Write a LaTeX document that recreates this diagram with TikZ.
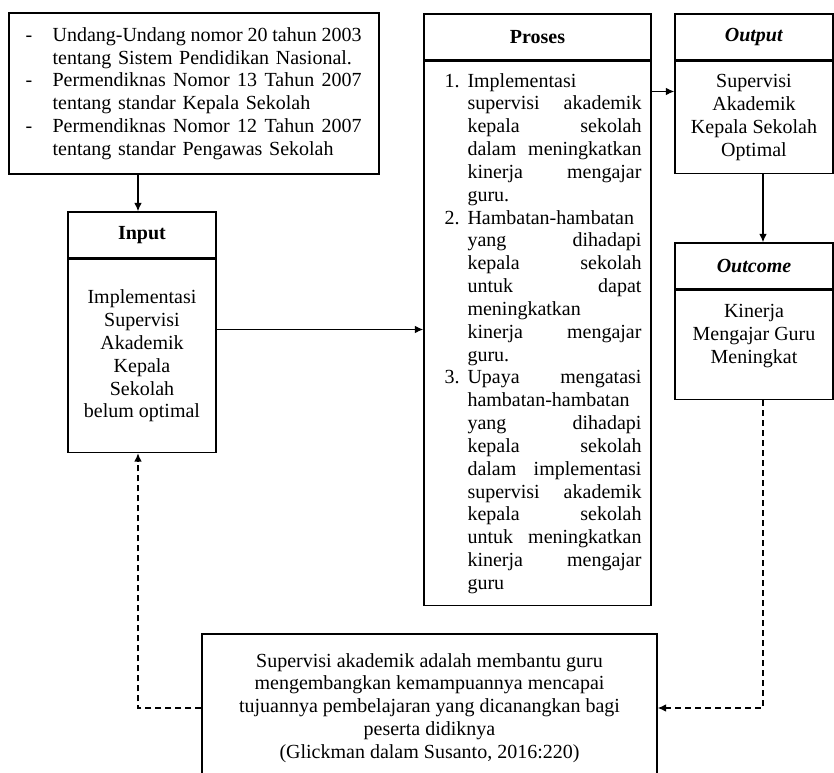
\documentclass[tikz,border=0pt]{standalone}
\usepackage{fontspec}
\setmainfont{Liberation Serif}
\usetikzlibrary{positioning, arrows.meta, calc}
\newlength{\jlw}
\newlength{\numw}
\newcommand{\jl}[1]{\noindent\hbox to\jlw{\spaceskip=3pt plus 1fill minus 1pt\relax #1}\par}
\newcommand{\rl}[1]{\noindent\hbox to\jlw{#1\hfil}\par}
\newcommand{\numb}[1]{\noindent\llap{\makebox[\numw][l]{#1}}}
\newcommand{\listsetup}[3]{\setlength{\leftskip}{#1}\setlength{\rightskip}{0pt}%
  \setlength{\numw}{#2}\setlength{\jlw}{#3}\setlength{\parskip}{0pt}\hbadness=10000\relax}
\tikzset{
  txt/.style={font=\fontsize{12}{13.7}\selectfont},
  headbox/.style={draw, line width=0.9pt, minimum height=27.6pt, inner sep=2pt, txt},
  bodybox/.style={draw, line width=0.9pt, align=center, txt},
  listbox/.style={draw, line width=0.9pt, txt},
  arr/.style={-{Latex[length=5pt,width=4.5pt]}, line width=0.7pt},
  dasharr/.style={arr, dash pattern=on 3.6pt off 2.4pt}
}
\begin{document}
\begin{tikzpicture}[x=0.6pt, y=-0.6pt]
  \useasboundingbox (0,0) rectangle (834,773);

  %% legal basis
  \node[listbox, text width=202.1pt, inner xsep=9.95pt,
        minimum width=222pt, minimum height=96.6pt] (laws) at (194,93.5)
    {\listsetup{16.2pt}{16.2pt}{185.4pt}%
     \numb{-}\jl{Undang-Undang nomor 20 tahun 2003}
     \rl{tentang Sistem Pendidikan Nasional.}
     \numb{-}\jl{Permendiknas Nomor 13 Tahun 2007}
     \rl{tentang standar Kepala Sekolah}
     \numb{-}\jl{Permendiknas Nomor 12 Tahun 2007}
     \rl{tentang standar Pengawas Sekolah}};

  %% input
  \node[headbox, minimum width=88.8pt] (inhead) at (142,235)
    {\textbf{Input}};
  \node[bodybox, minimum width=88.8pt, minimum height=115.8pt,
        below=0pt of inhead] (inbody)
    {Implementasi\\Supervisi\\Akademik\\Kepala\\Sekolah\\belum optimal};

  %% proses
  \node[headbox, minimum width=136.2pt] (prochead) at (537.5,37)
    {\textbf{Proses}};
  \node[listbox, text width=126pt, inner xsep=5.1pt,
        minimum width=136.2pt, minimum height=326.4pt,
        below=0pt of prochead] (procbody)
    {\listsetup{21pt}{13.8pt}{104.4pt}%
     \numb{1.}\rl{Implementasi}
     \jl{supervisi akademik}
     \jl{kepala sekolah}
     \jl{dalam meningkatkan}
     \jl{kinerja mengajar}
     \rl{guru.}
     \numb{2.}\rl{Hambatan-hambatan}
     \jl{yang dihadapi}
     \jl{kepala sekolah}
     \jl{untuk dapat}
     \rl{meningkatkan}
     \jl{kinerja mengajar}
     \rl{guru.}
     \numb{3.}\jl{Upaya mengatasi}
     \rl{hambatan-hambatan}
     \jl{yang dihadapi}
     \jl{kepala sekolah}
     \jl{dalam implementasi}
     \jl{supervisi akademik}
     \jl{kepala sekolah}
     \jl{untuk meningkatkan}
     \jl{kinerja mengajar}
     \rl{guru}};

  %% output and outcome
  \node[headbox, minimum width=94.8pt] (outhead) at (754,37)
    {\textbf{\itshape Output}};
  \node[bodybox, minimum width=94.8pt, minimum height=67.2pt,
        below=0pt of outhead] (outbody)
    {Supervisi\\Akademik\\Kepala Sekolah\\Optimal};

  \node[headbox, minimum width=94.8pt] (ochead) at (754,266)
    {\textbf{\itshape Outcome}};
  \node[bodybox, minimum width=94.8pt, minimum height=65.4pt,
        below=0pt of ochead] (ocbody)
    {Kinerja\\Mengajar Guru\\Meningkat\\\mbox{}};

  %% theory
  \node[bodybox, minimum width=273pt, minimum height=88.8pt] (theory) at (429.5,708)
    {Supervisi akademik adalah membantu guru\\
     mengembangkan kemampuannya mencapai\\
     tujuannya pembelajaran yang dicanangkan bagi\\
     peserta didiknya\\
     (Glickman dalam Susanto, 2016:220)};

  \coordinate (inout) at ([yshift=15.9pt]inbody.east);
  \coordinate (procout) at ([yshift=15.6pt]outbody.west);
  \coordinate (intop) at ([xshift=-2.4pt]inhead.north);
  \coordinate (inbot) at ([xshift=-2.4pt]inbody.south);
  \coordinate (outbot) at ([xshift=5.4pt]outbody.south);
  \coordinate (octop) at ([xshift=5.4pt]ochead.north);
  \coordinate (ocbot) at ([xshift=5.4pt]ocbody.south);

  \draw[arr] (laws.south -| intop) -- (intop);
  \draw[arr] (inout) -- (inout -| procbody.west);
  \draw[arr] (procout -| procbody.east) -- (procout);
  \draw[arr] (outbot) -- (octop);

  \draw[dasharr] (ocbot) |- (theory.east);
  \draw[dasharr] (theory.west) -| (inbot);

\end{tikzpicture}
\end{document}
